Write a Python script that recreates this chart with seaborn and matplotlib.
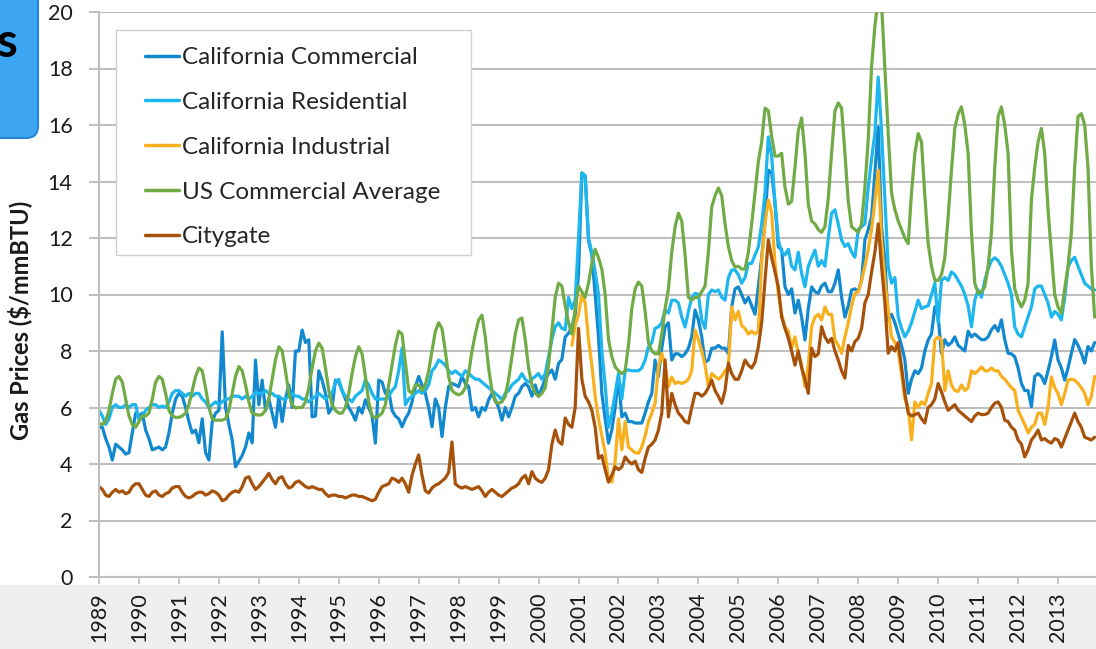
"""Natural gas prices: California sectors vs US commercial average and citygate, 1989-2013."""

import numpy as np
import pandas as pd
import matplotlib.pyplot as plt
import seaborn as sns
from matplotlib.patches import Rectangle, FancyBboxPatch
from matplotlib.transforms import IdentityTransform

# ── data (monthly, $/mmBTU) ──────────────────────────────────────────────────
YEARS = list(range(1989, 2014))
YEAR_LABELS = [str(y) for y in YEARS]
Y_TICKS = list(range(0, 21, 2))

CA_COMMERCIAL = [
    5.3, 5.3, 4.9, 4.6, 4.14, 4.7, 4.6, 4.5, 4.35, 4.4, 5.1, 5.8,         # 1989
    5.7, 5.8, 5.2, 4.9, 4.5, 4.55, 4.6, 4.5, 4.6, 5.1, 5.8, 6.3,          # 1990
    6.5, 6.4, 6.0, 5.5, 5.1, 5.2, 4.75, 5.6, 4.4, 4.14, 5.5, 5.8,         # 1991
    5.9, 8.68, 6.0, 5.4, 4.85, 3.9, 4.1, 4.3, 4.6, 5.1, 4.75, 7.68,       # 1992
    6.1, 6.97, 5.9, 6.3, 5.8, 5.3, 6.4, 5.5, 6.3, 6.8, 6.0, 8.0,          # 1993
    8.0, 8.74, 8.3, 8.4, 5.67, 5.7, 7.3, 6.97, 6.5, 5.8, 6.0, 6.97,       # 1994
    6.9, 6.6, 6.3, 6.0, 5.8, 5.55, 6.0, 5.8, 6.27, 6.0, 5.7, 4.74,        # 1995
    6.97, 6.9, 6.5, 6.6, 5.9, 5.7, 5.6, 5.32, 5.6, 5.8, 6.2, 6.74,        # 1996
    7.1, 6.8, 6.5, 6.0, 5.32, 6.3, 6.0, 4.97, 6.0, 6.74, 6.85, 6.8,       # 1997
    6.74, 7.1, 6.85, 6.74, 5.9, 6.0, 5.67, 6.0, 5.9, 6.27, 6.5, 6.27,     # 1998
    6.0, 5.55, 6.0, 5.67, 6.0, 6.4, 6.5, 6.74, 6.85, 6.74, 6.4, 6.8,      # 1999
    6.4, 6.7, 7.0, 7.2, 7.33, 7.0, 7.56, 7.7, 8.5, 8.63, 8.86, 9.3,       # 2000
    10.75, 14.3, 14.2, 11.9, 11.4, 10.0, 8.5, 6.5, 5.6, 4.74, 5.2, 6.0,   # 2001
    7.08, 5.67, 5.8, 5.5, 5.5, 5.45, 5.45, 5.45, 5.8, 6.2, 6.5, 7.68,     # 2002
    7.1, 8.1, 8.86, 9.0, 7.68, 7.9, 7.9, 7.8, 7.9, 8.1, 8.5, 9.45,        # 2003
    9.1, 8.5, 7.6, 7.68, 8.1, 8.1, 8.2, 8.1, 8.1, 7.9, 9.56, 10.2,        # 2004
    10.27, 10.0, 9.7, 9.9, 9.6, 9.3, 10.27, 11.3, 12.64, 14.4, 14.3, 13.24,  # 2005
    11.68, 11.6, 10.27, 10.0, 10.2, 9.34, 9.8, 9.2, 8.39, 9.5, 10.27, 10.1,  # 2006
    10.04, 10.3, 10.4, 10.1, 10.1, 10.4, 10.87, 9.9, 9.2, 9.6, 10.16, 10.2,  # 2007
    10.1, 10.5, 11.93, 12.3, 12.75, 14.3, 15.93, 12.4, 11.2, 9.1, 9.3, 9.0,  # 2008
    8.6, 8.2, 7.68, 6.5, 7.0, 7.3, 7.2, 7.4, 8.0, 8.39, 8.6, 9.56,        # 2009
    9.2, 7.92, 8.4, 8.2, 8.3, 8.5, 8.2, 8.1, 8.0, 8.7, 8.5, 8.6,          # 2010
    8.5, 8.4, 8.4, 8.5, 8.75, 8.9, 8.7, 9.1, 8.4, 7.92, 7.9, 7.8,         # 2011
    7.4, 6.85, 6.6, 6.6, 6.03, 7.1, 7.2, 7.1, 6.85, 7.3, 7.8, 8.39,       # 2012
    7.68, 7.4, 6.97, 7.4, 7.92, 8.4, 8.2, 7.92, 7.57, 8.16, 8.0, 8.3,     # 2013
]

CA_RESIDENTIAL = [
    5.9, 5.7, 5.4, 5.6, 6.0, 6.1, 6.0, 6.0, 6.1, 6.0, 6.1, 6.1,           # 1989
    5.55, 5.7, 5.9, 6.0, 6.1, 6.1, 6.0, 6.05, 6.0, 6.2, 6.5, 6.6,         # 1990
    6.6, 6.5, 6.4, 6.5, 6.4, 6.5, 6.5, 6.3, 6.2, 6.0, 6.1, 6.2,           # 1991
    6.1, 6.2, 6.3, 6.3, 6.4, 6.4, 6.4, 6.3, 6.4, 6.3, 6.4, 6.5,           # 1992
    6.5, 6.5, 6.6, 6.5, 6.5, 6.4, 6.4, 6.3, 6.3, 6.4, 6.5, 6.4,           # 1993
    6.4, 6.3, 6.3, 6.2, 6.3, 6.4, 6.5, 6.4, 6.3, 6.4, 6.5, 6.9,           # 1994
    7.0, 6.6, 6.4, 6.3, 6.2, 6.4, 6.5, 6.6, 6.97, 6.8, 6.5, 6.3,          # 1995
    6.3, 6.3, 6.3, 6.4, 6.6, 6.74, 7.3, 8.1, 6.1, 6.3, 6.4, 6.5,          # 1996
    6.6, 6.5, 6.6, 6.8, 7.3, 7.44, 7.68, 7.6, 7.5, 7.3, 7.2, 7.3,         # 1997
    7.2, 7.1, 7.3, 7.2, 7.1, 7.0, 7.0, 6.9, 6.8, 6.7, 6.6, 6.5,           # 1998
    6.4, 6.27, 6.5, 6.6, 6.8, 6.9, 7.0, 7.2, 7.0, 6.9, 7.0, 7.1,          # 1999
    7.2, 7.0, 7.2, 7.8, 8.4, 8.86, 9.0, 8.8, 8.75, 9.9, 9.5, 9.8,         # 2000
    12.0, 14.3, 14.2, 12.0, 11.5, 10.8, 10.0, 8.0, 6.8, 5.3, 5.8, 6.5,    # 2001
    7.2, 6.3, 7.3, 7.33, 7.3, 7.3, 7.3, 7.4, 7.68, 8.15, 8.3, 8.8,        # 2002
    8.86, 9.0, 9.45, 9.34, 9.8, 9.8, 9.7, 9.2, 8.85, 9.4, 9.9, 10.04,     # 2003
    10.0, 9.1, 8.8, 10.0, 10.16, 10.1, 10.16, 9.9, 9.8, 10.6, 10.87, 10.87,  # 2004
    10.7, 10.4, 10.6, 11.1, 11.1, 11.4, 11.68, 12.5, 13.6, 15.58, 14.9, 13.24,  # 2005
    11.93, 11.5, 11.4, 11.6, 11.0, 10.87, 11.5, 10.75, 10.27, 11.0, 11.3, 11.57,  # 2006
    11.0, 11.2, 11.0, 12.0, 12.88, 13.0, 12.5, 11.93, 11.7, 11.8, 11.5, 11.32,  # 2007
    12.3, 12.4, 12.5, 13.8, 14.8, 15.7, 17.7, 15.8, 13.35, 10.97, 10.4, 10.6,  # 2008
    9.2, 8.8, 8.5, 8.7, 9.0, 9.4, 9.8, 9.5, 9.56, 9.6, 10.0, 10.4,        # 2009
    9.0, 10.5, 10.6, 10.5, 10.8, 10.7, 10.5, 10.3, 10.0, 9.6, 8.86, 9.8,  # 2010
    10.16, 9.9, 10.5, 10.9, 11.2, 11.3, 11.2, 11.0, 10.7, 10.4, 10.0, 8.85,  # 2011
    8.6, 8.5, 8.85, 9.2, 9.56, 10.2, 10.3, 10.3, 10.0, 9.7, 9.2, 9.4,     # 2012
    9.3, 9.1, 9.9, 10.97, 11.2, 11.32, 11.0, 10.7, 10.4, 10.3, 10.2, 10.16,  # 2013
]

# industrial series begins in November 2000
CA_INDUSTRIAL_START = 2000 + 10 / 12
CA_INDUSTRIAL = [
    8.2, 8.9,                                                             # 2000 (Nov-Dec)
    9.3, 10.0, 9.7, 8.4, 7.5, 6.4, 5.6, 5.0, 4.4, 3.45, 3.36, 4.1,        # 2001
    5.6, 4.5, 5.5, 4.6, 4.5, 4.4, 4.38, 4.6, 5.0, 5.5, 5.8, 6.15,         # 2002
    7.44, 7.92, 7.5, 6.74, 7.08, 6.85, 6.9, 6.85, 6.9, 7.0, 7.3, 8.74,    # 2003
    8.4, 8.0, 7.5, 6.74, 7.2, 7.1, 7.0, 7.1, 7.3, 7.44, 9.56, 9.1,        # 2004
    9.4, 8.9, 8.8, 8.6, 8.7, 8.6, 8.7, 11.2, 12.5, 13.35, 12.9, 11.1,     # 2005
    10.04, 9.3, 8.86, 8.7, 8.1, 8.5, 7.9, 7.5, 6.74, 7.5, 8.86, 9.2,      # 2006
    9.3, 9.1, 9.56, 9.3, 9.3, 8.4, 8.2, 7.92, 8.5, 9.0, 9.6, 10.04,       # 2007
    10.1, 10.5, 11.0, 11.6, 12.3, 13.3, 14.4, 11.9, 10.5, 9.45, 8.5, 8.3,  # 2008
    8.0, 7.2, 6.3, 6.0, 4.85, 6.2, 6.0, 6.2, 6.1, 6.5, 6.85, 8.39,        # 2009
    8.5, 8.4, 6.6, 7.3, 6.8, 6.6, 6.57, 6.8, 6.6, 6.7, 7.3, 7.2,          # 2010
    7.3, 7.44, 7.3, 7.3, 7.4, 7.3, 7.3, 7.1, 7.0, 6.85, 6.7, 6.6,         # 2011
    5.9, 5.65, 5.4, 5.1, 5.3, 5.4, 5.8, 5.8, 5.4, 6.0, 7.08, 6.7,         # 2012
    6.5, 6.1, 6.5, 6.97, 7.0, 6.97, 6.85, 6.7, 6.5, 6.1, 6.4, 7.1,        # 2013
]

US_COMMERCIAL = [
    5.45, 5.4, 5.5, 5.9, 6.5, 7.0, 7.1, 6.9, 6.3, 5.7, 5.4, 5.3,          # 1989
    5.5, 5.7, 5.7, 5.8, 6.3, 6.9, 7.1, 7.0, 6.5, 5.9, 5.7, 5.65,          # 1990
    5.65, 5.7, 5.8, 6.1, 6.6, 7.1, 7.4, 7.3, 6.7, 6.0, 5.6, 5.55,         # 1991
    5.55, 5.55, 5.6, 5.9, 6.5, 7.1, 7.45, 7.3, 6.8, 6.2, 5.8, 5.75,       # 1992
    5.73, 5.75, 5.9, 6.3, 7.0, 7.7, 8.15, 8.0, 7.3, 6.5, 6.1, 5.98,       # 1993
    6.0, 6.0, 6.2, 6.7, 7.4, 8.0, 8.28, 8.1, 7.4, 6.6, 6.1, 5.9,          # 1994
    5.8, 5.8, 6.0, 6.5, 7.2, 7.8, 8.15, 7.9, 7.1, 6.2, 5.7, 5.63,         # 1995
    5.7, 5.8, 6.1, 6.8, 7.5, 8.2, 8.7, 8.6, 7.6, 6.6, 6.5, 6.8,           # 1996
    6.8, 6.6, 6.8, 7.3, 8.0, 8.7, 9.0, 8.8, 8.0, 7.1, 6.6, 6.5,           # 1997
    6.45, 6.5, 6.7, 7.2, 8.0, 8.6, 9.1, 9.27, 8.5, 7.4, 6.6, 6.2,         # 1998
    6.15, 6.2, 6.4, 7.0, 7.8, 8.6, 9.1, 9.17, 8.4, 7.4, 6.8, 6.5,         # 1999
    6.4, 6.5, 6.7, 7.5, 8.7, 9.9, 10.4, 10.3, 9.6, 9.0, 8.6, 9.5,         # 2000
    10.3, 10.1, 9.9, 10.4, 11.1, 11.6, 11.3, 10.9, 10.0, 8.4, 7.8, 7.44,  # 2001
    7.3, 7.2, 7.3, 8.2, 9.5, 10.2, 10.44, 10.3, 9.4, 8.3, 8.0, 7.9,       # 2002
    7.9, 8.6, 9.5, 10.2, 11.5, 12.4, 12.88, 12.6, 11.4, 9.9, 9.8, 9.9,    # 2003
    9.9, 10.1, 10.3, 11.5, 13.1, 13.5, 13.77, 13.5, 12.5, 11.7, 11.2, 10.97,  # 2004
    11.0, 10.9, 10.9, 11.5, 12.5, 13.6, 14.7, 15.4, 16.6, 16.5, 15.6, 14.9,   # 2005
    14.9, 15.0, 13.8, 13.2, 13.3, 14.5, 15.8, 16.25, 15.0, 13.2, 12.6, 12.5,  # 2006
    12.3, 12.2, 12.4, 13.4, 15.0, 16.5, 16.78, 16.6, 15.0, 13.3, 12.4, 12.3,  # 2007
    12.2, 12.5, 13.8, 15.5, 18.06, 19.5, 20.5, 20.3, 18.0, 15.7, 13.6, 13.0,  # 2008
    12.6, 12.3, 12.0, 11.8, 13.6, 15.0, 15.7, 15.4, 13.5, 11.8, 11.0, 10.5,   # 2009
    10.5, 10.7, 11.3, 12.75, 14.4, 15.9, 16.4, 16.64, 16.0, 15.0, 12.18, 10.4,  # 2010
    10.05, 10.1, 10.27, 11.0, 12.18, 14.5, 16.3, 16.64, 16.0, 15.0, 11.57, 10.2,  # 2011
    9.8, 9.56, 9.8, 10.4, 13.35, 14.5, 15.4, 15.88, 15.0, 13.0, 11.46, 10.0,  # 2012
    9.56, 9.34, 10.2, 11.0, 12.18, 14.5, 16.3, 16.4, 16.0, 14.5, 11.0, 9.2,   # 2013
]

CITYGATE = [
    3.2, 3.1, 2.9, 2.85, 3.0, 3.1, 3.0, 3.05, 2.95, 3.0, 3.2, 3.3,        # 1989
    3.3, 3.1, 2.9, 2.85, 3.0, 3.05, 2.9, 2.85, 2.95, 3.0, 3.15, 3.2,      # 1990
    3.2, 3.0, 2.85, 2.8, 2.85, 2.95, 3.0, 3.0, 2.9, 2.95, 3.05, 3.0,      # 1991
    2.9, 2.7, 2.75, 2.9, 3.0, 3.05, 3.0, 3.2, 3.5, 3.55, 3.3, 3.1,        # 1992
    3.2, 3.35, 3.5, 3.67, 3.45, 3.3, 3.5, 3.55, 3.3, 3.15, 3.2, 3.35,     # 1993
    3.4, 3.3, 3.2, 3.15, 3.2, 3.15, 3.1, 3.1, 2.95, 2.85, 2.9, 2.9,       # 1994
    2.85, 2.85, 2.8, 2.85, 2.9, 2.9, 2.85, 2.85, 2.8, 2.75, 2.7, 2.75,    # 1995
    3.0, 3.2, 3.25, 3.3, 3.5, 3.45, 3.35, 3.5, 3.3, 3.0, 3.6, 4.0,        # 1996
    4.32, 3.6, 3.05, 2.97, 3.15, 3.25, 3.3, 3.4, 3.5, 3.7, 4.78, 3.3,     # 1997
    3.2, 3.15, 3.2, 3.15, 3.1, 3.15, 3.2, 3.05, 2.85, 3.0, 3.1, 3.0,      # 1998
    2.9, 2.85, 2.95, 3.05, 3.15, 3.2, 3.3, 3.5, 3.6, 3.3, 3.73, 3.5,      # 1999
    3.4, 3.35, 3.5, 3.8, 4.7, 5.2, 4.8, 4.7, 5.63, 5.4, 5.3, 6.0,         # 2000
    8.8, 7.0, 6.4, 6.2, 5.9, 5.3, 4.2, 4.3, 3.8, 3.36, 3.6, 3.9,          # 2001
    3.8, 3.9, 4.25, 4.1, 4.0, 4.1, 3.8, 3.7, 4.2, 4.6, 4.7, 4.85,         # 2002
    5.2, 5.8, 7.68, 5.67, 6.5, 6.1, 5.8, 5.67, 5.5, 5.45, 6.0, 6.5,       # 2003
    6.5, 6.4, 6.5, 6.7, 6.97, 6.6, 6.4, 6.15, 6.6, 7.57, 7.2, 7.0,        # 2004
    7.0, 7.3, 7.68, 7.5, 7.4, 7.6, 8.15, 9.0, 10.5, 11.93, 11.3, 10.8,    # 2005
    10.27, 9.2, 8.8, 8.45, 8.0, 7.5, 8.0, 7.4, 7.0, 6.5, 8.1, 7.8,        # 2006
    7.9, 8.86, 8.5, 8.3, 8.45, 8.0, 7.68, 7.3, 7.04, 8.2, 8.0, 8.33,      # 2007
    8.45, 8.8, 9.7, 10.0, 10.8, 11.5, 12.5, 11.0, 9.7, 7.92, 8.16, 8.0,   # 2008
    8.3, 7.44, 6.5, 5.8, 5.7, 5.75, 5.8, 5.6, 5.45, 6.0, 6.1, 6.3,        # 2009
    6.85, 6.55, 6.2, 5.9, 6.0, 6.1, 5.9, 5.8, 5.7, 5.6, 5.5, 5.7,         # 2010
    5.8, 5.75, 5.75, 5.8, 6.0, 6.15, 6.2, 6.0, 5.55, 5.5, 5.3, 5.2,       # 2011
    4.85, 4.7, 4.25, 4.5, 4.85, 5.0, 5.2, 4.85, 4.9, 4.8, 4.74, 4.9,      # 2012
    4.85, 4.6, 4.9, 5.2, 5.5, 5.8, 5.5, 5.3, 4.95, 4.9, 4.85, 4.95,       # 2013
]

SERIES = [
    ("California Commercial", CA_COMMERCIAL, 1989.0),
    ("California Residential", CA_RESIDENTIAL, 1989.0),
    ("California Industrial", CA_INDUSTRIAL, CA_INDUSTRIAL_START),
    ("US Commercial Average", US_COMMERCIAL, 1989.0),
    ("Citygate", CITYGATE, 1989.0),
]

COLORS = {
    "California Commercial":  "#1289CF",
    "California Residential": "#1DB6EE",
    "California Industrial":  "#F9B01E",
    "US Commercial Average":  "#70AB45",
    "Citygate":               "#A7520B",
}

# ── canvas ────────────────────────────────────────────────────────────────────
W, H = 1096, 649
sns.set_theme(style="white")
plt.rcParams["font.family"] = ["Lato", "DejaVu Sans"]

fig = plt.figure(figsize=(W / 100, H / 100), dpi=100, facecolor="white")
ax = fig.add_axes([99 / W, 72 / H, 997 / W, 565 / H])
ax.set_facecolor("white")

grid_color = "#BFBFBF"
text_color = "#1A1A1A"

# grey band behind the year labels (kept under the axes so labels show)
fig.patches.append(Rectangle((0, 0), 1, 64 / H, transform=fig.transFigure,
                             facecolor="#EFEFEF", edgecolor="none", zorder=-1))

# slide title box peeking in at the top-left corner
fig.patches.append(FancyBboxPatch((-30, H - 138), 68, 170,
                                  boxstyle="round,pad=0,rounding_size=12",
                                  transform=IdentityTransform(),
                                  facecolor="#3DA7F3", edgecolor="#2585D6",
                                  linewidth=1.5, zorder=1))
fig.text(18 / W, 1 - 43 / H, "s", ha="right", va="center",
         fontsize=34, fontweight="bold", color="black")

# ── lines ─────────────────────────────────────────────────────────────────────
for name, values, start in SERIES:
    df = pd.DataFrame({"date": start + np.arange(len(values)) / 12,
                       "price": values})
    sns.lineplot(data=df, x="date", y="price", ax=ax, color=COLORS[name],
                 linewidth=2.3, label=name, estimator=None, sort=False)

# ── axes ──────────────────────────────────────────────────────────────────────
ax.set_xlim(1989, 1989 + 997 / 39.96)
ax.set_ylim(0, 20)
ax.set_xticks(YEARS)
ax.set_xticklabels(YEAR_LABELS, rotation=90, fontsize=15.5, color=text_color)
ax.set_yticks(Y_TICKS)
ax.set_yticklabels([str(t) for t in Y_TICKS], fontsize=15.5, color=text_color)
ax.tick_params(axis="x", length=5, width=1.2, color=grid_color, pad=6,
               bottom=True)
ax.tick_params(axis="y", length=7, width=1.5, color=grid_color, pad=12,
               left=True)
ax.grid(axis="y", color=grid_color, linewidth=1.5)
ax.grid(axis="x", visible=False)
ax.set_axisbelow(True)
for side in ("top", "right"):
    ax.spines[side].set_visible(False)
for side in ("left", "bottom"):
    ax.spines[side].set_color(grid_color)
    ax.spines[side].set_linewidth(1.5)

ax.set_xlabel("")
ax.set_ylabel("Gas Prices (\\$/mmBTU)", fontsize=17, fontweight="bold",
              color=text_color)
ax.yaxis.set_label_coords(-67 / 997, 0.455)

# ── legend ────────────────────────────────────────────────────────────────────
ax.add_patch(Rectangle((17 / 997, (577 - 255) / 565), 355 / 997, 225 / 565,
                       transform=ax.transAxes, facecolor="white",
                       edgecolor="#D0D0D0", linewidth=1.0, zorder=4))
leg = ax.legend(loc="upper left", bbox_to_anchor=(46 / 997, (577 - 47) / 565),
                frameon=False, fontsize=17.5, handlelength=1.4,
                handletextpad=0.12, labelspacing=0.98, borderpad=0,
                borderaxespad=0)
leg.set_zorder(5)
for line in leg.get_lines():
    line.set_linewidth(2.5)

fig.savefig("out.png", dpi=100, facecolor=fig.get_facecolor())
